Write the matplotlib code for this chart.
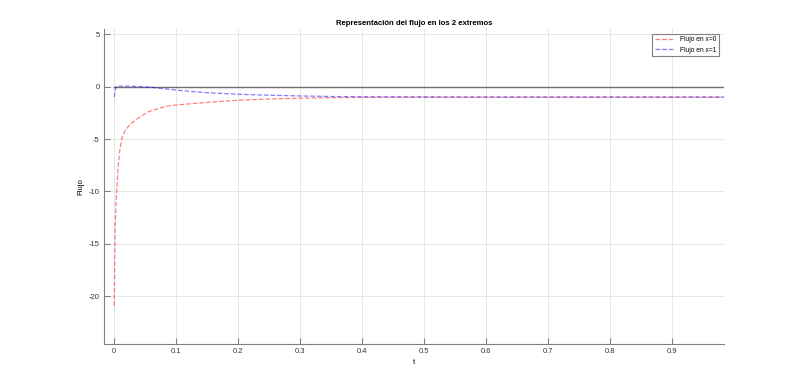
import numpy as np
import matplotlib
matplotlib.use("Agg")
import matplotlib.pyplot as plt

# flujo en x=0
t_x0 = [0.0, 0.0005, 0.001, 0.0016, 0.0027, 0.0039, 0.0048, 0.0065, 0.0092, 0.0119,
        0.0173, 0.0253, 0.0387, 0.0548, 0.0818, 0.1, 0.15, 0.2, 0.25, 0.3,
        0.35, 0.4, 0.45, 0.5, 0.6, 0.7, 0.8, 0.9, 0.983]
flujo_x0 = [-20.9, -17.5, -15.5, -13.0, -11.0, -10.0, -9.0, -7.5, -5.9, -5.0,
            -4.2, -3.6, -3.0, -2.4, -1.9, -1.75, -1.5, -1.3, -1.18, -1.1,
            -1.05, -1.02, -1.01, -1.0, -1.0, -1.0, -1.0, -1.0, -1.0]

# flujo en x=1
t_x1 = [0.0, 0.001, 0.002, 0.003, 0.01, 0.03, 0.0576, 0.08, 0.111, 0.15,
        0.2, 0.25, 0.3, 0.35, 0.4, 0.5, 0.6, 0.7, 0.8, 0.9, 0.983]
flujo_x1 = [-1.0, -0.6, -0.2, 0.02, 0.05, 0.03, -0.05, -0.2, -0.4, -0.58,
            -0.73, -0.82, -0.89, -0.94, -0.97, -0.99, -1.0, -1.0, -1.0, -1.0, -1.0]

# referencia en cero
t_ref = [0.0, 0.983]
y_ref = [0.0, 0.0]

plt.rcParams['font.family'] = ['Liberation Sans', 'DejaVu Sans']
plt.rcParams['axes.unicode_minus'] = False

fig = plt.figure(figsize=(8, 3.86), dpi=100)
ax = fig.add_axes([0.13, 0.11, 0.775, 0.815])

ax.plot(t_ref, y_ref, color='#707070', lw=1.0, zorder=2)
ax.plot(t_x0, flujo_x0, '--', color='red', alpha=0.5, lw=0.9, label='Flujo en x=0', zorder=3)
ax.plot(t_x1, flujo_x1, '--', color='blue', alpha=0.5, lw=0.9, label='Flujo en x=1', zorder=3)

ax.set_xlim(-0.0166, 0.9834)
ax.set_ylim(-24.5, 5.5)
ax.set_xticks(np.arange(0, 1.0, 0.1))
ax.set_xticklabels(['0', '0.1', '0.2', '0.3', '0.4', '0.5', '0.6', '0.7', '0.8', '0.9'])
ax.set_yticks([-20, -15, -10, -5, 0, 5])

ax.grid(True, color='#e6e6e6', lw=0.7)
ax.set_axisbelow(True)
for s in ['top', 'right']:
    ax.spines[s].set_visible(False)
for s in ['left', 'bottom']:
    ax.spines[s].set_color('#808080')
ax.tick_params(direction='in', colors='#808080', labelcolor='#333333',
               labelsize=5.5, length=4.5, width=0.8, pad=3)

ax.set_title('Representación del flujo en los 2 extremos', fontsize=5.6, fontweight='bold', pad=3)
ax.set_xlabel('t', fontsize=5.6, labelpad=3)
ax.set_ylabel('Flujo', fontsize=5.6, labelpad=3)

leg = ax.legend(loc='upper right', fontsize=4.8, fancybox=False, framealpha=1,
                edgecolor='#808080', handlelength=3, borderaxespad=0.7)
leg.get_frame().set_linewidth(0.8)

fig.savefig('out.png', dpi=100)
